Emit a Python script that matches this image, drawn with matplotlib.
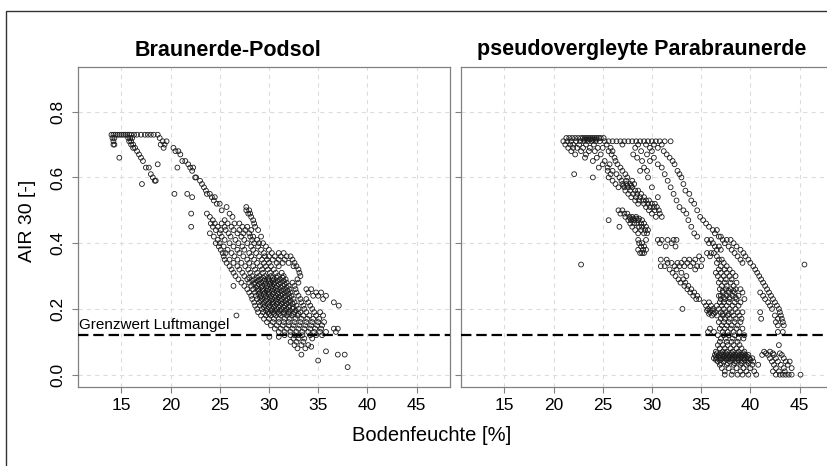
import matplotlib
matplotlib.use("Agg")
import matplotlib.pyplot as plt
from matplotlib.patches import Rectangle

plt.rcParams['font.family'] = ['Liberation Sans', 'DejaVu Sans']
plt.rcParams['lines.scale_dashes'] = False

# panel titles and the threshold value
titles = ["Braunerde-Podsol", "pseudovergleyte Parabraunerde"]
grenzwert = 0.12
x_ticks = [15, 20, 25, 30, 35, 40, 45]
y_ticks = [0.0, 0.2, 0.4, 0.6, 0.8]

# Braunerde-Podsol: {AIR 30: [Bodenfeuchte %, ...]}
podsol_rows = {
    0.73: [14.0, 14.2, 14.4, 14.6, 14.8, 15.0, 15.2, 15.4, 15.6, 15.8, 16.0, 16.3, 16.6, 17.0, 17.4, 17.7, 18.0, 18.3, 18.7],
    0.72: [14.1, 14.3, 15.7, 15.9, 16.1, 18.9],
    0.71: [14.2, 15.8, 16.0, 19.2, 19.6],
    0.70: [14.2, 14.3, 16.0, 16.2, 19.0, 19.4],
    0.69: [16.2, 16.4, 19.3, 20.3],
    0.68: [16.6, 20.5, 20.8],
    0.67: [16.8, 21.0],
    0.66: [14.8, 17.0],
    0.65: [17.2, 21.2, 21.5],
    0.64: [18.7, 21.8],
    0.63: [17.5, 17.8, 20.7, 22.0, 22.3],
    0.62: [22.2],
    0.61: [18.0],
    0.60: [18.2, 22.5, 22.6],
    0.59: [18.4, 18.5, 23.0],
    0.58: [17.1, 23.2],
    0.57: [23.4],
    0.56: [23.6],
    0.55: [20.4, 21.7, 23.7, 24.0],
    0.54: [22.2, 24.2, 24.5],
    0.53: [24.4],
    0.52: [24.7, 25.0],
    0.51: [25.7, 27.7],
    0.50: [25.2, 27.7, 28.0],
    0.49: [22.1, 23.7, 26.0, 27.9, 28.1],
    0.48: [24.0, 26.3, 28.2],
    0.47: [24.3, 25.5, 28.4],
    0.46: [24.1, 24.5, 25.2, 25.8, 26.5, 27.0, 28.5],
    0.45: [22.1, 24.3, 24.8, 25.5, 26.2, 27.3, 27.8, 28.6],
    0.44: [24.6, 25.1, 25.6, 26.4, 27.0, 27.6, 28.2, 28.9],
    0.43: [24.0, 25.0, 25.9, 26.8, 27.4, 28.0],
    0.42: [24.4, 25.2, 26.1, 27.2, 28.1, 28.4, 29.2],
    0.41: [24.8, 25.5, 26.6, 27.5, 28.3, 28.8],
    0.40: [24.6, 25.0, 26.0, 26.9, 27.8, 28.5, 29.0, 29.4],
    0.39: [24.9, 25.4, 26.4, 27.3, 28.2, 28.9, 29.7],
    0.38: [25.1, 25.8, 26.8, 27.5, 28.4, 29.2, 30.0],
    0.37: [25.3, 25.6, 26.2, 27.0, 28.0, 28.7, 29.5, 30.3, 31.0, 31.5],
    0.36: [25.4, 26.5, 27.4, 28.2, 29.0, 29.6, 30.0, 30.6, 31.2, 31.8, 32.2],
    0.35: [25.5, 26.0, 26.8, 27.8, 28.5, 29.3, 29.8, 30.4, 31.0, 31.6, 32.4],
    0.34: [25.7, 26.4, 27.2, 28.0, 28.8, 29.5, 30.0, 30.8, 31.4, 32.0, 32.6],
    0.33: [26.0, 26.8, 27.6, 28.4, 29.1, 29.7, 30.2, 31.0, 32.5, 32.8],
    0.32: [26.2, 27.0, 27.9, 28.6, 29.3, 29.9, 30.5, 33.0],
    0.31: [26.4, 27.3, 28.1, 28.8, 29.4, 30.1, 30.7, 31.3, 33.1],
    0.30: [26.6, 27.5, 28.3, 29.0, 29.6, 30.2, 30.9, 31.5, 33.2],
    0.295: [28.0, 28.8, 29.4, 29.9, 30.4, 30.8, 31.4],
    0.29: [26.9, 27.8, 28.5, 29.1, 29.6, 30.0, 30.5, 31.1, 31.7, 32.9],
    0.285: [28.3, 28.9, 29.5, 30.0, 30.4, 30.9, 31.5],
    0.28: [27.2, 28.0, 28.6, 29.2, 29.7, 30.2, 30.6, 31.2, 31.8, 32.4, 33.0],
    0.275: [28.5, 29.0, 29.6, 30.1, 30.5, 31.0, 31.6],
    0.27: [26.4, 27.5, 28.2, 28.8, 29.3, 29.8, 30.3, 30.8, 31.4, 32.0, 32.6],
    0.265: [28.7, 29.2, 29.7, 30.2, 30.7, 31.2, 31.8],
    0.26: [27.8, 28.4, 28.9, 29.4, 29.9, 30.4, 30.9, 31.5, 32.1, 32.7, 33.8, 34.3],
    0.255: [28.9, 29.4, 29.8, 30.3, 30.8, 31.3, 31.9],
    0.25: [28.0, 28.6, 29.1, 29.6, 30.0, 30.5, 31.0, 31.6, 32.2, 32.8, 34.0, 34.8, 35.3],
    0.245: [29.0, 29.5, 30.0, 30.4, 30.9, 31.4, 32.0],
    0.24: [28.2, 28.7, 29.2, 29.7, 30.2, 30.7, 31.2, 31.7, 32.3, 33.0, 34.5, 35.0, 35.8],
    0.235: [29.1, 29.6, 30.1, 30.6, 31.0, 31.5, 32.1],
    0.23: [28.3, 28.8, 29.3, 29.8, 30.3, 30.8, 31.3, 31.9, 32.5, 33.2, 33.8, 35.5],
    0.225: [29.2, 29.7, 30.2, 30.7, 31.2, 31.7, 32.2],
    0.22: [28.5, 29.0, 29.5, 30.0, 30.4, 30.9, 31.4, 32.0, 32.6, 33.3, 34.0, 36.6],
    0.215: [29.4, 29.9, 30.4, 30.8, 31.3, 31.8, 32.4],
    0.21: [28.6, 29.1, 29.6, 30.1, 30.6, 31.1, 31.6, 32.1, 32.8, 33.5, 34.2, 37.1],
    0.205: [29.5, 30.0, 30.5, 31.0, 31.5, 32.0, 32.5],
    0.20: [28.8, 29.3, 29.8, 30.3, 30.8, 31.3, 31.8, 32.4, 33.0, 33.6, 34.4],
    0.195: [29.7, 30.2, 30.6, 31.1, 31.6, 32.1, 32.7],
    0.19: [28.9, 29.4, 29.9, 30.4, 30.9, 31.5, 32.0, 32.6, 33.2, 33.8, 34.6, 35.2],
    0.185: [30.0, 30.5, 31.0, 31.5, 32.0, 32.5, 33.0],
    0.18: [26.7, 29.2, 29.7, 30.2, 30.7, 31.2, 31.8, 32.3, 32.9, 33.5, 34.1, 34.8, 35.5],
    0.17: [29.5, 30.0, 30.5, 31.0, 31.6, 32.1, 32.7, 33.3, 33.9, 34.5, 35.1],
    0.16: [29.8, 30.4, 31.0, 31.5, 32.0, 32.6, 33.2, 33.8, 34.4, 35.0, 35.6],
    0.15: [30.2, 30.8, 31.4, 32.0, 32.5, 33.1, 33.7, 34.3, 34.9, 35.4],
    0.14: [30.6, 31.2, 31.8, 32.4, 33.0, 33.6, 34.2, 34.7, 35.3, 36.6, 37.0],
    0.13: [31.0, 31.6, 32.2, 32.8, 33.4, 34.0, 34.6, 35.2, 35.8, 36.8],
    0.12: [31.6, 32.2, 32.6, 33.0, 33.4, 34.2, 34.8, 35.4],
    0.115: [30.05, 31.0],
    0.11: [32.5, 33.0, 33.6, 34.4],
    0.10: [32.2, 32.8, 33.5],
    0.09: [32.6, 33.3, 34.0],
    0.085: [34.3],
    0.08: [32.9, 33.7],
    0.071: [35.8],
    0.061: [33.3, 37.0, 37.7],
    0.043: [35.0],
    0.023: [38.0],
}

# pseudovergleyte Parabraunerde, same layout
para_rows = {
    0.72: [21.3, 21.6, 21.9, 22.2, 22.5, 22.8, 23.0, 23.2, 23.4, 23.6, 23.8, 24.0, 24.2, 24.4, 24.6, 24.8, 25.1],
    0.715: [23.1, 23.4, 23.7, 24.0, 24.3],
    0.71: [21.0, 21.4, 21.8, 22.3, 22.7, 23.1, 23.5, 23.9, 24.3, 24.7, 25.2, 25.6, 26.0, 26.4, 26.8, 27.2, 27.6,
           28.0, 28.4, 28.8, 29.2, 29.6, 30.0, 30.4, 30.8, 31.3, 31.9],
    0.70: [21.2, 21.7, 22.0, 22.6, 23.3, 24.1, 25.4, 27.0, 28.6, 29.4, 30.2, 31.0],
    0.69: [21.5, 22.0, 22.4, 23.0, 23.7, 24.5, 25.0, 25.8, 28.3, 29.8, 30.6],
    0.68: [21.8, 22.8, 23.6, 24.2, 25.6, 26.0, 28.9, 30.0, 31.2],
    0.67: [22.2, 23.3, 24.8, 25.9, 28.1, 29.5, 31.5],
    0.66: [23.2, 24.4, 26.2, 28.5, 30.2, 31.8],
    0.65: [24.0, 25.2, 26.3, 29.0, 29.8, 32.1],
    0.64: [25.0, 25.7, 26.5, 30.6, 32.3],
    0.63: [24.6, 25.5, 26.8, 29.2, 31.0],
    0.62: [25.5, 26.0, 27.0, 28.8, 29.5, 32.6],
    0.61: [22.1, 25.8, 26.4, 27.3, 31.3, 32.8],
    0.60: [24.0, 25.6, 26.7, 27.5, 29.6, 33.0],
    0.59: [26.0, 26.9, 27.4, 28.0, 31.6],
    0.58: [26.3, 27.0, 27.4, 27.8, 28.2, 33.2],
    0.575: [27.1, 27.5, 27.9],
    0.57: [26.6, 27.2, 27.6, 28.0, 30.0, 31.9],
    0.56: [27.3, 27.8, 28.3, 28.6, 33.4],
    0.55: [27.6, 28.1, 28.5, 28.9, 32.2, 33.8],
    0.54: [27.9, 28.4, 28.8, 29.2, 30.6],
    0.53: [28.3, 28.7, 29.1, 29.4, 29.7, 32.5, 34.0],
    0.52: [28.6, 29.2, 29.6, 30.0, 30.3, 34.3],
    0.51: [29.4, 29.8, 30.2, 30.5, 32.8],
    0.50: [26.6, 27.0, 29.7, 30.3, 30.7, 33.2, 34.6],
    0.49: [26.8, 27.2, 27.5, 30.0, 30.8, 33.5],
    0.48: [27.3, 27.7, 28.0, 28.4, 30.4, 31.0, 34.9],
    0.475: [27.8, 28.1, 28.4, 28.7],
    0.47: [25.6, 27.6, 27.9, 28.2, 28.6, 29.0, 33.7, 35.2],
    0.46: [27.8, 28.2, 28.5, 28.9, 29.2, 35.5],
    0.45: [26.7, 28.0, 28.7, 29.0, 29.4, 34.0, 35.8],
    0.44: [28.3, 28.9, 29.3, 29.6, 36.2, 36.6],
    0.43: [28.6, 29.2, 29.5, 34.3, 36.4],
    0.42: [34.6, 36.8, 37.0],
    0.41: [28.6, 29.4, 30.6, 31.0, 31.6, 32.2, 32.5, 35.6, 36.0, 37.2, 37.6, 38.0],
    0.40: [28.7, 29.0, 30.8, 32.0, 35.8, 36.2, 37.4, 38.3],
    0.39: [28.9, 29.2, 31.4, 32.4, 36.4, 36.8, 37.8, 38.6],
    0.38: [28.6, 29.1, 29.4, 36.6, 37.0, 38.1, 39.0],
    0.37: [28.8, 29.0, 29.2, 35.6, 36.0, 36.3, 38.4, 39.3],
    0.36: [34.8, 35.9, 36.6, 38.7, 39.5],
    0.35: [30.9, 31.5, 33.3, 33.8, 34.4, 35.1, 36.8, 37.1, 39.0, 39.8],
    0.34: [31.6, 32.0, 32.6, 33.0, 33.6, 34.2, 36.6, 37.3, 39.2, 40.0],
    0.335: [22.8, 45.5],
    0.33: [30.9, 31.3, 32.3, 32.8, 33.3, 33.9, 34.6, 35.0, 37.0, 37.6, 40.3],
    0.32: [31.8, 32.5, 34.4, 36.8, 37.4, 37.9, 40.5],
    0.31: [32.1, 33.0, 36.5, 37.0, 37.6, 38.2, 40.7],
    0.30: [32.4, 33.5, 36.7, 37.3, 37.9, 38.5, 40.9],
    0.29: [32.7, 33.2, 37.0, 37.5, 38.1, 41.1],
    0.28: [32.9, 33.4, 36.8, 37.4, 38.0, 38.6, 41.3],
    0.27: [33.3, 33.7, 37.1, 37.6, 38.3, 41.5],
    0.26: [33.6, 34.0, 36.9, 37.5, 38.0, 38.5, 39.0, 41.7],
    0.255: [37.2, 37.8, 38.3],
    0.25: [33.9, 34.3, 37.2, 37.8, 38.4, 39.2, 41.0, 41.9],
    0.24: [34.2, 34.6, 36.8, 37.0, 37.6, 38.2, 38.8, 41.3, 42.1],
    0.235: [37.3, 37.9, 38.5],
    0.23: [34.5, 34.8, 37.0, 37.4, 37.9, 38.6, 39.4, 41.5, 42.3],
    0.22: [35.3, 35.8, 36.9, 37.3, 37.8, 38.4, 39.0, 41.8, 42.5],
    0.21: [35.5, 36.0, 36.6, 37.1, 37.6, 38.2, 38.8, 42.0, 42.7],
    0.20: [33.1, 35.7, 36.2, 36.8, 37.3, 37.9, 38.5, 42.2, 42.9],
    0.195: [35.6, 35.9, 36.2],
    0.19: [35.9, 36.4, 37.0, 37.5, 38.1, 38.7, 39.2, 41.0, 43.0],
    0.185: [35.8, 36.3, 37.2, 37.8],
    0.18: [36.1, 36.6, 37.2, 37.7, 38.3, 38.9, 42.5, 43.1],
    0.17: [37.0, 37.4, 37.9, 38.5, 39.1, 41.1, 42.8, 43.2],
    0.16: [36.8, 37.3, 37.8, 38.4, 39.0, 42.6, 43.3],
    0.15: [37.1, 37.6, 38.1, 38.7, 42.8, 43.4],
    0.14: [35.9, 36.9, 37.4, 38.0, 38.6, 39.2],
    0.13: [35.7, 36.3, 37.2, 37.7, 38.3, 38.9, 42.8, 43.3],
    0.12: [36.7, 37.3, 37.8, 38.4, 39.4],
    0.11: [37.0, 37.5, 38.2, 38.8, 39.3],
    0.10: [36.9, 37.6, 38.1, 38.7],
    0.09: [36.7, 37.2, 37.7, 38.3, 38.9, 42.9],
    0.08: [36.9, 37.4, 38.0, 38.6, 39.1],
    0.07: [36.5, 37.2, 37.6, 38.2, 38.8, 39.4, 41.4, 42.0],
    0.065: [36.6, 37.0, 37.5, 38.1, 38.7, 39.3, 41.6, 42.3, 43.0],
    0.06: [36.4, 36.8, 37.1, 37.4, 37.7, 38.0, 38.3, 38.6, 38.9, 39.2, 39.5, 39.8, 41.2, 41.8, 42.4, 43.2],
    0.055: [36.5, 36.9, 37.3, 37.6, 37.9, 38.2, 38.5, 38.8, 39.1, 39.4, 39.7],
    0.05: [36.3, 36.6, 36.9, 37.2, 37.5, 37.8, 38.1, 38.4, 38.7, 39.0, 39.3, 39.6, 39.9, 40.2, 42.0, 42.6, 43.4],
    0.045: [36.5, 37.0, 37.6, 38.2, 38.8, 39.4, 40.0],
    0.04: [36.7, 37.3, 37.9, 38.5, 39.1, 39.7, 40.3, 42.2, 42.8, 43.6, 44.0],
    0.035: [37.0, 37.7, 38.4, 39.1, 39.8],
    0.03: [36.9, 37.6, 38.3, 39.0, 39.6, 40.2, 40.8, 42.4, 43.1, 43.8],
    0.02: [37.1, 37.8, 38.6, 39.3, 40.0, 42.6, 43.4, 44.2],
    0.01: [37.4, 38.2, 39.0, 39.6, 40.4, 42.3, 42.9, 43.5],
    0.00: [37.4, 38.1, 38.7, 39.2, 39.8, 40.6, 42.6, 43.0, 43.3, 43.6, 43.9, 44.2, 45.1],
}


def flatten(rows):
    xs, ys = [], []
    for y, xlist in rows.items():
        for x in xlist:
            xs.append(x)
            ys.append(y)
    return xs, ys


W, H = 827, 466
fig = plt.figure(figsize=(W / 100, H / 100), dpi=100)

# outer frame, runs off the right and bottom edge like in the original
fig.patches.append(Rectangle((6 / W, -0.2), 1.2, 1.2 - 11 / H, transform=fig.transFigure,
                             fill=False, edgecolor='#333333', linewidth=1.0))

ax_w = 372 / W
ax_b = 1 - 386.5 / H
ax_h = 319.5 / H
axes = [fig.add_axes([78 / W, ax_b, ax_w, ax_h]),
        fig.add_axes([461 / W, ax_b, ax_w, ax_h])]

for i, (ax, rows) in enumerate(zip(axes, [podsol_rows, para_rows])):
    xs, ys = flatten(rows)
    ax.set_axisbelow(True)
    ax.grid(True, color='#dcdcdc', linestyle=(0, (3, 3)), linewidth=0.8)
    ax.scatter(xs, ys, s=12, facecolors='none', edgecolors='#1a1a1a', linewidths=0.6, zorder=3)
    ax.axhline(grenzwert, color='black', linestyle=(0, (7.5, 3.5)), linewidth=1.6, zorder=4)
    ax.set_xlim(10.6, 48.4)
    ax.set_ylim(-0.036, 0.936)
    ax.set_xticks(x_ticks)
    ax.set_yticks(y_ticks)
    ax.set_yticklabels([f"{v:.1f}" for v in y_ticks], rotation=90, va='center')
    ax.tick_params(direction='out', length=4, width=0.8, color='#808080', labelsize=12.5, pad=4)
    ax.tick_params(axis='y', pad=5)
    for sp in ax.spines.values():
        sp.set_color('#808080')
        sp.set_linewidth(0.9)
    if i == 1:
        ax.tick_params(axis='y', labelleft=False)

axes[0].text(0.003, grenzwert + 0.01, "Grenzwert Luftmangel", transform=axes[0].get_yaxis_transform(),
             fontsize=11, ha='left', va='bottom')

fig.text(228 / W, 1 - 55.5 / H, titles[0], fontsize=15.5, fontweight='bold', ha='center', va='baseline')
fig.text(642 / W, 1 - 55.5 / H, titles[1], fontsize=15.5, fontweight='bold', ha='center', va='baseline')
fig.text(431.5 / W, 1 - 440.7 / H, "Bodenfeuchte [%]", fontsize=14.5, ha='center', va='baseline')
fig.text(28 / W, 1 - 221 / H, "AIR 30 [-]", fontsize=14, rotation=90, ha='center', va='center')

fig.savefig("out.png", dpi=100)
